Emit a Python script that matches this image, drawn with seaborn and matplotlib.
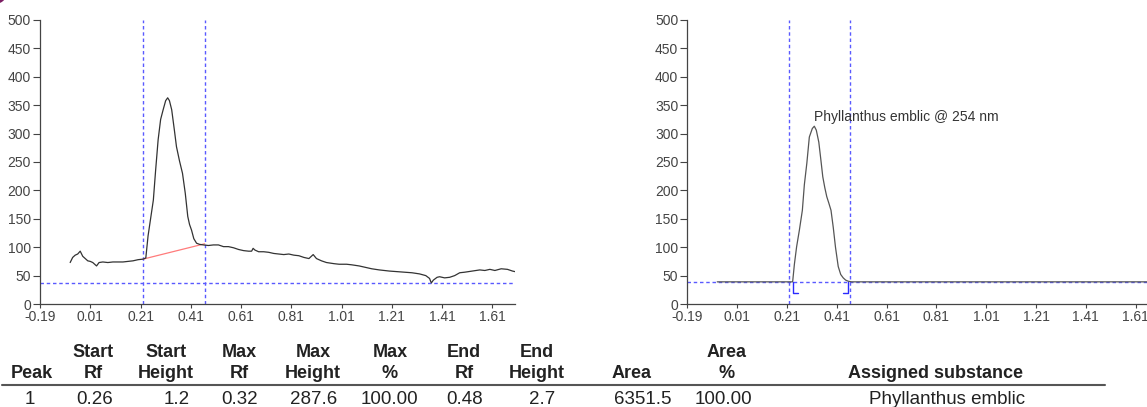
import seaborn as sns
import matplotlib.pyplot as plt
from matplotlib.lines import Line2D
from matplotlib.patches import Circle

# raw densitogram of the track (Rf vs height, AU)
rf_left = [-0.07, -0.06, -0.05, -0.04, -0.03, -0.02, -0.01, 0.00, 0.01, 0.02, 0.03, 0.035,
           0.045, 0.06, 0.08, 0.10, 0.12, 0.14, 0.16, 0.18, 0.20, 0.22, 0.231, 0.24, 0.25,
           0.261, 0.27, 0.28, 0.29, 0.30, 0.31, 0.318, 0.325, 0.334, 0.345, 0.353, 0.365,
           0.377, 0.388, 0.398, 0.405, 0.413, 0.422, 0.433, 0.445, 0.46, 0.48, 0.50, 0.52,
           0.54, 0.56, 0.58, 0.60, 0.62, 0.64, 0.652, 0.658, 0.665, 0.68, 0.70, 0.72, 0.74,
           0.76, 0.78, 0.80, 0.82, 0.84, 0.86, 0.88, 0.897, 0.91, 0.93, 0.95, 0.98, 1.00,
           1.03, 1.05, 1.08, 1.10, 1.13, 1.16, 1.20, 1.23, 1.26, 1.29, 1.32, 1.345, 1.36,
           1.367, 1.375, 1.39, 1.40, 1.42, 1.44, 1.46, 1.48, 1.50, 1.53, 1.56, 1.58, 1.60,
           1.62, 1.645, 1.67, 1.69, 1.70]
height_left = [73, 82, 86, 88, 93, 84, 80, 76, 75, 73, 69, 67,
               73, 74, 73, 74, 74, 74, 75, 76, 78, 79, 81, 120, 150,
               183, 235, 289, 325, 342, 358, 363, 358, 342, 305, 277, 252,
               230, 195, 154, 140, 130, 115, 107, 105, 104, 103, 104, 104,
               101, 101, 99, 96, 94, 93, 93, 98, 95, 92, 92, 91, 89,
               88, 87, 88, 86, 85, 82, 80, 87, 80, 76, 73, 71, 70,
               70, 69, 67, 65, 62, 60, 58, 57, 56, 55, 53, 50, 45,
               37, 42, 47, 48, 46, 47, 50, 55, 56, 58, 60, 59, 61,
               59, 62, 61, 58, 57]

# baseline corrected densitogram
rf_right = [-0.07, 0.10, 0.233, 0.24, 0.249, 0.26, 0.272, 0.28, 0.29, 0.30, 0.312, 0.32,
            0.328, 0.338, 0.346, 0.354, 0.362, 0.370, 0.378, 0.387, 0.396, 0.405, 0.416,
            0.426, 0.436, 0.446, 0.457, 0.47, 0.80, 1.20, 1.70]
height_right = [39, 39, 39, 70, 101, 130, 165, 210, 248, 294, 309, 313,
                306, 285, 255, 224, 205, 189, 178, 165, 135, 100, 66,
                52, 46, 42, 40, 39, 39, 39, 39]

track_rf = [0.22, 0.465]
threshold_left = 37
threshold_right = 39
peak_base_rf = [0.22, 0.465]
peak_base_height = [79, 106]
peak_bounds_rf = [0.233, 0.457]
bracket_height = 20
label_rf, label_height = 0.319, 330
peak_label = 'Phyllanthus emblic @ 254 nm'

x_ticks = [-0.19, 0.01, 0.21, 0.41, 0.61, 0.81, 1.01, 1.21, 1.41, 1.61]
y_ticks = [0, 50, 100, 150, 200, 250, 300, 350, 400, 450, 500]

head_top = ['', 'Start', 'Start', 'Max', 'Max', 'Max', 'End', 'End', '', 'Area', '']
head_bottom = ['Peak', 'Rf', 'Height', 'Rf', 'Height', '%', 'Rf', 'Height', 'Area', '%',
               'Assigned substance']
row_1 = ['1', '0.26', '1.2', '0.32', '287.6', '100.00', '0.48', '2.7', '6351.5', '100.00',
         'Phyllanthus emblic']

sns.set_style('ticks')
plt.rcParams['font.family'] = ['Liberation Sans', 'DejaVu Sans']

W, H = 1147, 407
fig = plt.figure(figsize=(W / 100, H / 100), dpi=100)


def px_axes(l, t, r, b):
    return fig.add_axes([l / W, 1 - b / H, (r - l) / W, (b - t) / H])


ax1 = px_axes(40, 20, 515, 304)
ax2 = px_axes(687.3, 20, 1158, 304)

blue = '#5a5aff'
dash = (0, (2.5, 2))

for ax in (ax1, ax2):
    ax.set_xlim(-0.19, 1.70)
    ax.set_ylim(0, 500)
    ax.set_xticks(x_ticks)
    ax.set_xticklabels([f'{t:.2f}' for t in x_ticks])
    ax.set_yticks(y_ticks)
    ax.tick_params(axis='y', length=5, width=0.8, pad=1.5, labelsize=10,
                   colors='#444444')
    ax.tick_params(axis='x', length=3, width=0.8, pad=1.5, labelsize=10,
                   colors='#444444')
    sns.despine(ax=ax)
    for s in ('left', 'bottom'):
        ax.spines[s].set_color('#444444')
        ax.spines[s].set_linewidth(0.9)
    for r in track_rf:
        ax.axvline(r, color=blue, lw=1, ls=dash, zorder=1)

# left: raw scan with peak baseline
ax1.axhline(threshold_left, color=blue, lw=1, ls=dash, zorder=1)
sns.lineplot(x=rf_left, y=height_left, ax=ax1, color='#333333', lw=0.9,
             estimator=None, sort=False, zorder=3)
ax1.plot(peak_base_rf, peak_base_height, color='#ff7b7b', lw=0.9, zorder=2)

# right: corrected scan with peak marks
ax2.axhline(threshold_right, color=blue, lw=1, ls=dash, zorder=1)
sns.lineplot(x=rf_right, y=height_right, ax=ax2, color='#555555', lw=0.9,
             estimator=None, sort=False, zorder=3)
tail = 0.023
ax2.plot([peak_bounds_rf[0]] * 2 + [peak_bounds_rf[0] + tail],
         [threshold_right, bracket_height, bracket_height], color='#2b2bff', lw=1)
ax2.plot([peak_bounds_rf[1]] * 2 + [peak_bounds_rf[1] - tail],
         [threshold_right, bracket_height, bracket_height], color='#2b2bff', lw=1)
ax2.text(label_rf, label_height, peak_label, fontsize=10, color='#333333',
         ha='left', va='center')
for ax in (ax1, ax2):
    ax.set_xlabel('')
    ax.set_ylabel('')

# results table
head_x = [31.5, 93, 166, 239, 313, 390, 464, 537, 632, 727, 935]
row_x = [30, 95, 177, 240, 314, 389, 465, 542, 643, 723, 947]
for x, a, b in zip(head_x, head_top, head_bottom):
    if a:
        fig.text(x / W, 1 - 357 / H, a, ha='center', va='baseline', fontsize=13,
                 fontweight='bold', color='#222222')
    fig.text(x / W, 1 - 378.5 / H, b, ha='center', va='baseline', fontsize=13,
             fontweight='bold', color='#222222')
for x, v in zip(row_x, row_1):
    fig.text(x / W, 1 - 403.5 / H, v, ha='center', va='baseline', fontsize=13.5,
             color='#222222')
fig.add_artist(Line2D([2 / W, 1105 / W], [1 - 384.5 / H] * 2, color='#555555', lw=1.5))

fig.patches.append(Circle((-0.04, 4.14), 0.1, transform=fig.dpi_scale_trans,
                          color='#7b1d62', figure=fig))

fig.savefig('out.png', dpi=100)
